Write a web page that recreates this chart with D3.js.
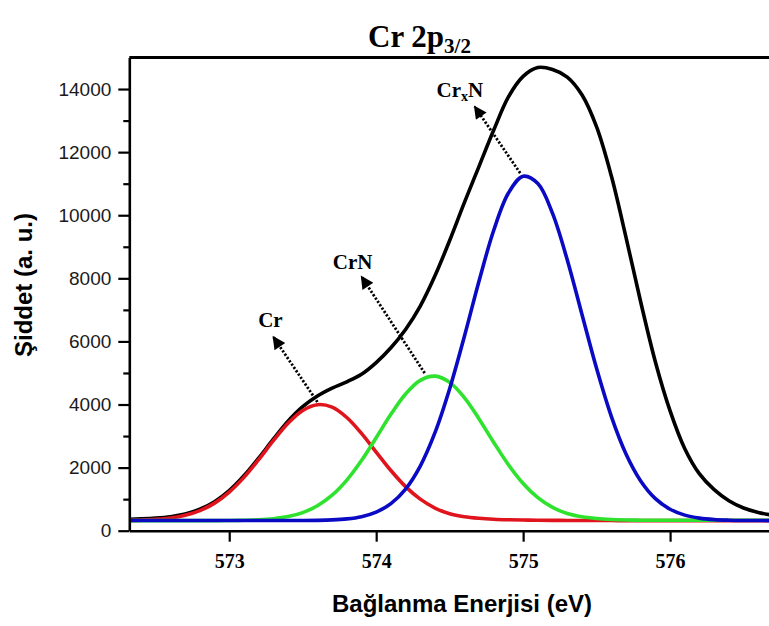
<!DOCTYPE html>
<html>
<head>
<meta charset="utf-8">
<script src="https://cdn.jsdelivr.net/npm/d3@7"></script>
<style>
  body { margin: 0; background: #fff; }
  svg { display: block; }
</style>
</head>
<body>
<svg id="chart" width="769" height="626"></svg>
<script>
// Binding energy grid (eV) shared by every curve
const energy = [
  572.3, 572.4, 572.5, 572.6, 572.7, 572.8, 572.9, 573.0, 573.1, 573.2,
  573.3, 573.4, 573.5, 573.6, 573.7, 573.8, 573.9, 574.0, 574.1, 574.2,
  574.3, 574.4, 574.5, 574.6, 574.7, 574.8, 574.9, 575.0, 575.1, 575.2,
  575.3, 575.4, 575.5, 575.6, 575.7, 575.8, 575.9, 576.0, 576.1, 576.2,
  576.3, 576.4, 576.5, 576.6, 576.7, 576.8, 576.9
];

// Measured envelope (a. u.)
const envelope = [
  360, 375, 400, 445, 530, 680, 920, 1270, 1740, 2300,
  2900, 3470, 3930, 4270, 4520, 4720, 4960, 5330, 5800, 6380,
  7120, 8080, 9200, 10400, 11550, 12700, 13750, 14400, 14680, 14620,
  14380, 13820, 12800, 11250, 9300, 7250, 5350, 3800, 2600, 1800,
  1300, 950, 720, 580, 490, 430, 400
];

// Fitted component: metallic Cr
const crValues = [
  326, 336, 358, 402, 487, 636, 874, 1224, 1690, 2252,
  2852, 3404, 3812, 3994, 3915, 3588, 3084, 2492, 1908, 1397,
  1000, 719, 538, 445, 395, 365, 348, 338, 332, 328,
  325, 323, 322, 321, 320, 320, 320, 320, 320, 320,
  320, 320, 320, 320, 320, 320, 320
];

// Fitted component: CrN
const crnValues = [
  318, 318, 318, 318, 318, 318, 320, 324, 331, 346,
  380, 448, 574, 789, 1125, 1605, 2225, 2948, 3689, 4334,
  4767, 4900, 4702, 4218, 3544, 2798, 2091, 1497, 1047, 737,
  543, 440, 385, 355, 340, 333, 331, 330, 330, 330,
  330, 330, 330, 330, 330, 330, 330
];

// Fitted component: CrxN
const crxnValues = [
  322, 322, 322, 322, 322, 322, 322, 322, 322, 322,
  322, 322, 323, 328, 342, 375, 446, 590, 859, 1321,
  2050, 3106, 4500, 6157, 7917, 9523, 10703, 11235, 11004, 10061,
  8591, 6862, 5138, 3625, 2432, 1577, 1016, 680, 493, 398,
  352, 333, 325, 322, 320, 318, 318
];

const xTicks = [573, 574, 575, 576];
const yTicks = [0, 2000, 4000, 6000, 8000, 10000, 12000, 14000];
const yMinorTicks = [1000, 3000, 5000, 7000, 9000, 11000, 13000];

// Peak annotations: label anchor and arrow (from peak top to arrow tip), data units
const peakLabel = ["Cr", "CrN", "Cr"];
const peakLabelSub = ["", "", "x"];
const peakLabelTail = ["", "", "N"];
const labelEnergy = [573.28, 573.84, 574.57];
const labelIntensity = [6460, 8300, 13733];
const arrowFromEnergy = [573.60, 574.33, 574.98];
const arrowFromIntensity = [4080, 4995, 11335];
const arrowToEnergy = [573.30, 573.90, 574.67];
const arrowToIntensity = [6143, 8056, 13447];

const svg = d3.select("#chart");
const plotLeft = 129.3, plotRight = 795, plotTop = 57.5, plotBottom = 530.7;

const x = d3.scaleLinear().domain([572.32, 576.85]).range([plotLeft, plotRight]);
const y = d3.scaleLinear().domain([0, 15000]).range([plotBottom, plotTop]);

const defs = svg.append("defs");
defs.append("clipPath").attr("id", "plotClip")
  .append("rect").attr("x", plotLeft).attr("y", plotTop - 5)
  .attr("width", plotRight - plotLeft).attr("height", plotBottom - plotTop + 5);

// Title
const title = svg.append("text")
  .attr("x", 368).attr("y", 47)
  .attr("font-family", "'Liberation Serif', 'Times New Roman', serif")
  .attr("font-weight", "bold").attr("font-size", 31).attr("fill", "#000");
title.append("tspan").text("Cr 2p");
title.append("tspan").attr("font-size", 21).attr("dy", 6).text("3/2");

// Curves
const curveSets = [
  { values: envelope, color: "#000000" },
  { values: crValues, color: "#e0141c" },
  { values: crnValues, color: "#2ee22e" },
  { values: crxnValues, color: "#0a0ac4" }
];
const line = d3.line()
  .x(d => x(d[0])).y(d => y(d[1]))
  .curve(d3.curveCatmullRom.alpha(0.5));
const plot = svg.append("g").attr("clip-path", "url(#plotClip)");
curveSets.forEach(s => {
  plot.append("path")
    .datum(energy.map((e, i) => [e, s.values[i]]))
    .attr("d", line)
    .attr("fill", "none")
    .attr("stroke", s.color)
    .attr("stroke-width", 3.6)
    .attr("stroke-linejoin", "round");
});

// Frame top line
svg.append("line")
  .attr("x1", plotLeft).attr("x2", plotRight)
  .attr("y1", y(15000)).attr("y2", y(15000))
  .attr("stroke", "#000").attr("stroke-width", 2.8);

// Y axis
const yAxis = svg.append("g").attr("transform", `translate(${plotLeft},0)`)
  .call(d3.axisLeft(y).tickValues(yTicks).tickSize(11).tickSizeOuter(0).tickPadding(7)
    .tickFormat(d3.format("d")));
yAxis.select(".domain").attr("stroke-width", 2.6);
yAxis.selectAll(".tick line").attr("stroke-width", 2.2);
yAxis.selectAll(".tick text")
  .attr("font-family", "'Liberation Sans', Arial, sans-serif")
  .attr("font-size", 19).attr("fill", "#1a1a1a");

const yMinor = svg.append("g").attr("transform", `translate(${plotLeft},0)`)
  .call(d3.axisLeft(y).tickValues(yMinorTicks).tickSize(6).tickFormat(""));
yMinor.select(".domain").remove();
yMinor.selectAll(".tick line").attr("stroke-width", 2.2);

// X axis
const xAxis = svg.append("g").attr("transform", `translate(0,${plotBottom})`)
  .call(d3.axisBottom(x).tickValues(xTicks).tickSize(11).tickSizeOuter(0).tickPadding(12)
    .tickFormat(d3.format("d")));
xAxis.select(".domain").attr("stroke-width", 2.6);
xAxis.selectAll(".tick line").attr("stroke-width", 2.2);
xAxis.selectAll(".tick text")
  .attr("font-family", "'Liberation Serif', 'Times New Roman', serif")
  .attr("font-weight", "bold").attr("font-size", 20).attr("fill", "#000");

// Axis titles
svg.append("text")
  .attr("x", 462).attr("y", 612)
  .attr("text-anchor", "middle")
  .attr("font-family", "'Liberation Sans', Arial, sans-serif")
  .attr("font-weight", "bold").attr("font-size", 24).attr("fill", "#000")
  .text("Bağlanma Enerjisi (eV)");

svg.append("text")
  .attr("transform", "translate(32,285) rotate(-90)")
  .attr("text-anchor", "middle")
  .attr("font-family", "'Liberation Sans', Arial, sans-serif")
  .attr("font-weight", "bold").attr("font-size", 24).attr("fill", "#000")
  .text("Şiddet (a. u.)");

// Annotation arrows
defs.append("marker")
  .attr("id", "arrowHead")
  .attr("viewBox", "0 0 10 10")
  .attr("refX", 9).attr("refY", 5)
  .attr("markerUnits", "userSpaceOnUse")
  .attr("markerWidth", 15).attr("markerHeight", 13)
  .attr("orient", "auto")
  .append("path").attr("d", "M0,0 L10,5 L0,10 Z").attr("fill", "#000");

peakLabel.forEach((lab, i) => {
  svg.append("line")
    .attr("x1", x(arrowFromEnergy[i])).attr("y1", y(arrowFromIntensity[i]))
    .attr("x2", x(arrowToEnergy[i])).attr("y2", y(arrowToIntensity[i]))
    .attr("stroke", "#000").attr("stroke-width", 2.8)
    .attr("stroke-dasharray", "2.2,1.8")
    .attr("marker-end", "url(#arrowHead)");

  const t = svg.append("text")
    .attr("x", x(labelEnergy[i])).attr("y", y(labelIntensity[i]))
    .attr("text-anchor", "middle")
    .attr("font-family", "'Liberation Serif', 'Times New Roman', serif")
    .attr("font-weight", "bold").attr("font-size", 21).attr("fill", "#000");
  t.append("tspan").text(lab);
  if (peakLabelSub[i]) {
    t.append("tspan").attr("font-size", 14).attr("dy", 4).text(peakLabelSub[i]);
    t.append("tspan").attr("dy", -4).text(peakLabelTail[i]);
  }
});
</script>
</body>
</html>
